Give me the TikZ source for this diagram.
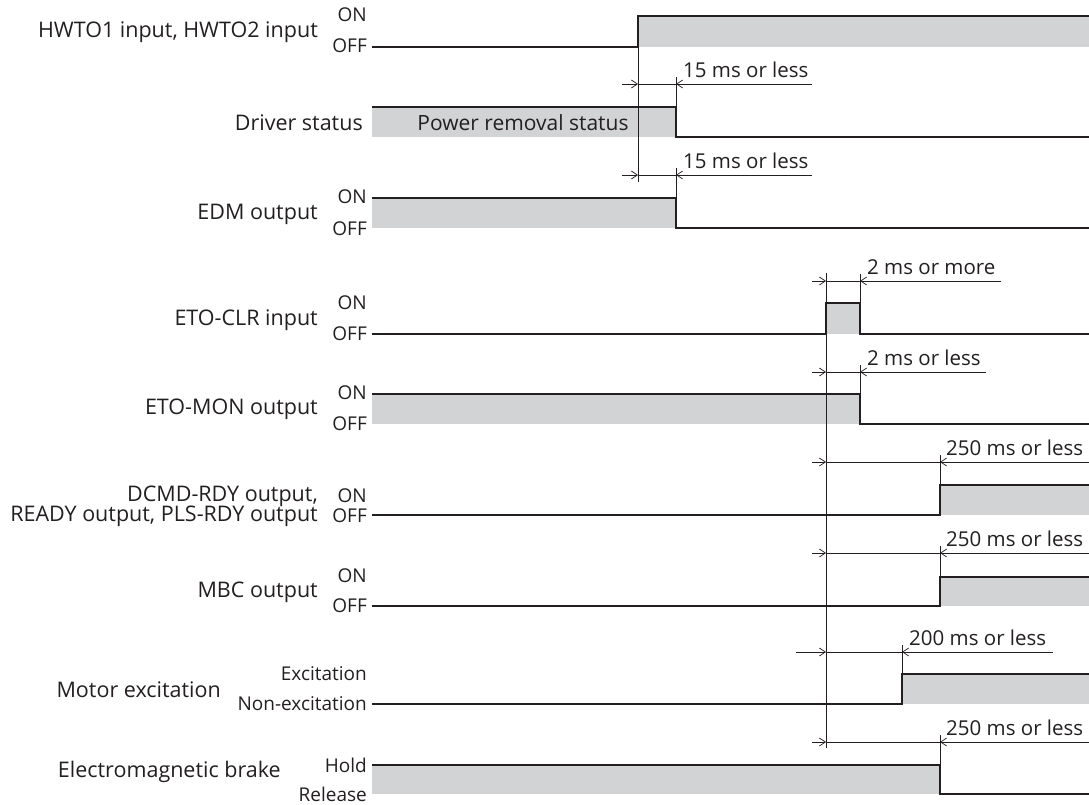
\documentclass[tikz,border=0pt]{standalone}
\usepackage{fontspec}
\setmainfont{Open Sans}
\usetikzlibrary{arrows.meta}
\definecolor{ink}{HTML}{231F20}
\definecolor{lvl}{HTML}{D1D3D4}
\tikzset{
  sig/.style={draw=ink, line width=1.3pt},
  hi/.style={fill=lvl, draw=none},
  dimline/.style={draw=ink, line width=0.7pt},
  refline/.style={draw=ink, line width=0.8pt},
  tip/.tip={Straight Barb[length=6pt, width=8pt, line width=0.7pt]},
  mainlbl/.style={anchor=east, inner sep=0pt, text=ink, font=\fontsize{21.5}{22}\selectfont},
  statelbl/.style={anchor=east, inner sep=0pt, text=ink, font=\fontsize{19}{20}\selectfont},
  timelbl/.style={anchor=west, inner sep=0pt, text=ink, font=\fontsize{20.5}{22}\selectfont},
}
\begin{document}
\begin{tikzpicture}[x=1pt, y=-1pt]
\useasboundingbox (0,0) rectangle (1089,805);

% ---------- Row 1: HWTO
\node[mainlbl] (l1) at (318,32) {HWTO1 input, HWTO2 input};
\node[statelbl] (on1) at (367,15) {ON};
\node[statelbl] (off1) at (367,46) {OFF};
\fill[hi] (638,16) rectangle (1089,47);
\draw[sig] (372,47) -- (638,47) -- (638,16) -- (1089,16);

% ---------- Row 2: Driver status
\node[mainlbl] (l2) at (363,123) {Driver status};
\fill[hi] (372,107) rectangle (676,137);
\draw[sig] (372,107) -- (676,107) -- (676,137) -- (1089,137);
\node[inner sep=0pt, text=ink, font=\fontsize{21}{22}\selectfont] (prs) at (523,123) {Power removal status};

% ---------- Row 3: EDM
\node[mainlbl] (l3) at (318,214) {EDM output};
\node[statelbl] (on3) at (367,197) {ON};
\node[statelbl] (off3) at (367,229) {OFF};
\fill[hi] (372,198) rectangle (676,228);
\draw[sig] (372,198) -- (676,198) -- (676,228) -- (1089,228);

% reference line 1 and timings
\draw[refline] (638,16) -- (638,182);
\draw[dimline] (676,77) -- (676,107);
\draw[dimline] (676,168) -- (676,198);
\draw[dimline, -tip] (622,84) -- (638,84);
\draw[dimline] (638,84) -- (676,84);
\draw[dimline, tip-] (676,84) -- (812,84);
\node[timelbl] (t1) at (683,70) {15 ms or less};
\draw[dimline, -tip] (622,175) -- (638,175);
\draw[dimline] (638,175) -- (676,175);
\draw[dimline, tip-] (676,175) -- (812,175);
\node[timelbl] (t2) at (683,161) {15 ms or less};

% ---------- Row 4: ETO-CLR
\node[mainlbl] (l4) at (318,320) {ETO-CLR input};
\node[statelbl] (on4) at (367,303) {ON};
\node[statelbl] (off4) at (367,334) {OFF};
\fill[hi] (826,303) rectangle (860,334);
\draw[sig] (372,334) -- (826,334) -- (826,303) -- (860,303) -- (860,334) -- (1089,334);

% ---------- Row 5: ETO-MON
\node[mainlbl] (l5) at (318,409) {ETO-MON output};
\node[statelbl] (on5) at (367,393) {ON};
\node[statelbl] (off5) at (367,424) {OFF};
\fill[hi] (372,394) rectangle (860,424);
\draw[sig] (372,394) -- (860,394) -- (860,424) -- (1089,424);

% ---------- Row 6: DCMD-RDY
\node[mainlbl] (l6a) at (318,496) {DCMD-RDY output,};
\node[mainlbl] (l6b) at (318,516) {READY output, PLS-RDY output};
\node[statelbl] (on6) at (367,496) {ON};
\node[statelbl] (off6) at (367,516) {OFF};
\fill[hi] (940,485) rectangle (1089,515);
\draw[sig] (372,515) -- (940,515) -- (940,485) -- (1089,485);

% ---------- Row 7: MBC
\node[mainlbl] (l7) at (318,592) {MBC output};
\node[statelbl] (on7) at (367,576) {ON};
\node[statelbl] (off7) at (367,606) {OFF};
\fill[hi] (940,577) rectangle (1089,606);
\draw[sig] (372,606) -- (940,606) -- (940,577) -- (1089,577);

% ---------- Row 8: Motor excitation
\node[mainlbl] (l8) at (221,690) {Motor excitation};
\node[statelbl] (on8) at (367,674) {Excitation};
\node[statelbl] (off8) at (367,704) {Non-excitation};
\fill[hi] (902,674) rectangle (1089,704);
\draw[sig] (372,704) -- (902,704) -- (902,674) -- (1089,674);

% ---------- Row 9: Electromagnetic brake
\node[mainlbl] (l9) at (281,772) {Electromagnetic brake};
\node[statelbl] (on9) at (367,765) {Hold};
\node[statelbl] (off9) at (367,794) {Release};
\fill[hi] (372,765) rectangle (940,794);
\draw[sig] (372,765) -- (940,765) -- (940,794) -- (1089,794);

% reference line 2 and timings
\draw[refline] (826,273) -- (826,748);
% 2 ms or more
\draw[dimline] (860,274) -- (860,303);
\draw[dimline, -tip] (812,281) -- (826,281);
\draw[dimline] (826,281) -- (860,281);
\draw[dimline, tip-] (860,281) -- (1001,281);
\node[timelbl] (t3) at (867,267) {2 ms or more};
% 2 ms or less
\draw[dimline] (860,365) -- (860,394);
\draw[dimline, -tip] (812,372) -- (826,372);
\draw[dimline] (826,372) -- (860,372);
\draw[dimline, tip-] (860,372) -- (986,372);
\node[timelbl] (t4) at (867,358) {2 ms or less};
% 250 ms DCMD
\draw[dimline] (940,455) -- (940,485);
\draw[dimline, -tip] (812,462) -- (826,462);
\draw[dimline] (826,462) -- (940,462);
\draw[dimline, tip-] (940,462) -- (1089,462);
\node[timelbl] (t5) at (946,448) {250 ms or less};
% 250 ms MBC
\draw[dimline] (940,546) -- (940,577);
\draw[dimline, -tip] (812,553) -- (826,553);
\draw[dimline] (826,553) -- (940,553);
\draw[dimline, tip-] (940,553) -- (1089,553);
\node[timelbl] (t6) at (946,539) {250 ms or less};
% 200 ms motor
\draw[dimline] (902,645) -- (902,674);
\draw[dimline, -tip] (796,652) -- (826,652);
\draw[dimline] (826,652) -- (902,652);
\draw[dimline, tip-] (902,652) -- (1053,652);
\node[timelbl] (t7) at (909,638) {200 ms or less};
% 250 ms brake
\draw[dimline] (940,735) -- (940,765);
\draw[dimline, -tip] (812,742) -- (826,742);
\draw[dimline] (826,742) -- (940,742);
\draw[dimline, tip-] (940,742) -- (1089,742);
\node[timelbl] (t8) at (946,728) {250 ms or less};
\end{tikzpicture}
\end{document}
